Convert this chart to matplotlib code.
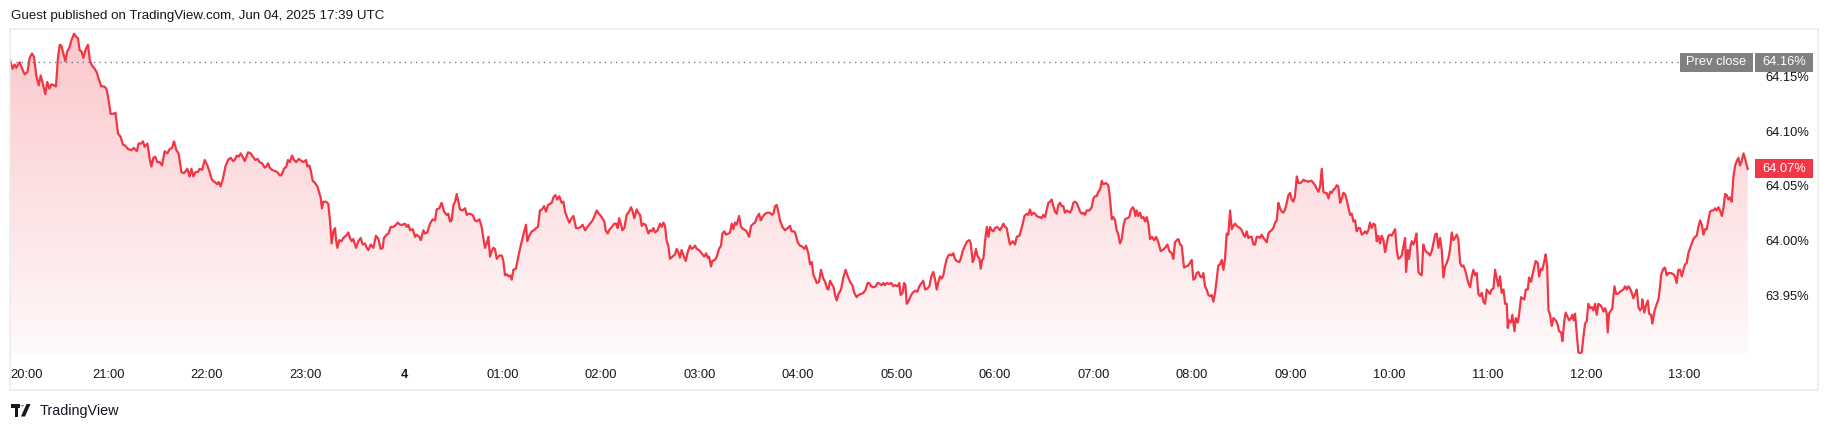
import matplotlib
matplotlib.use("Agg")
import matplotlib.pyplot as plt
import matplotlib.colors as mcolors
from matplotlib.patches import Rectangle, PathPatch, Polygon, Circle
from matplotlib.lines import Line2D
from matplotlib import transforms
import numpy as np

# --- data: minutes after 20:00 (Jun 3) and yield in % ---
minutes = [
    0, 1.6, 2.8, 3.9, 4.9, 5.9, 6.9, 8.9, 10.6, 12.0,
    13.4, 14.6, 16.0, 17.5, 18.7, 19.9, 21.5, 22.7, 24.0, 25.2,
    26.8, 28.0, 29.2, 30.3, 31.3, 32.5, 33.7, 34.9, 36.1, 37.4,
    39.0, 40.4, 41.4, 42.4, 43.5, 44.7, 45.9, 47.5, 48.7, 50.0,
    51.6, 52.8, 54.0, 55.6, 57.3, 58.7, 59.7, 61.3, 62.7, 64.2,
    65.8, 67.4, 68.8, 70.2, 71.9, 73.9, 75.5, 77.2, 78.4, 80.0,
    81.0, 82.0, 83.7, 85.1, 86.1, 87.3, 88.5, 89.7, 91.2, 92.6,
    94.2, 95.8, 97.3, 98.7, 99.9, 101.3, 102.7, 104.4, 106.0, 108.0,
    109.4, 110.5, 111.7, 112.9, 114.5, 115.5, 117.0, 118.6, 120.2, 121.6,
    123.0, 124.7, 126.3, 127.1, 128.3, 129.7, 131.2, 132.8, 134.4, 135.8,
    136.9, 138.1, 139.3, 140.5, 142.0, 143.0, 145.0, 146.6, 148.0, 149.4,
    150.7, 152.1, 153.5, 155.1, 156.1, 157.2, 158.2, 159.6, 161.2, 162.8,
    164.3, 165.3, 166.9, 168.3, 169.3, 170.4, 171.8, 173.0, 174.4, 175.8,
    178.7, 180.3, 181.1, 182.3, 183.1, 184.4, 185.8, 187.2, 188.4, 189.2,
    190.0, 190.9, 192.5, 193.9, 194.9, 195.9, 197.0, 198.0, 198.6, 199.4,
    200.6, 202.0, 203.0, 204.7, 206.1, 207.1, 208.1, 209.1, 210.8, 212.2,
    213.6, 214.8, 216.2, 217.3, 218.3, 219.7, 221.3, 222.9, 224.4, 225.8,
    227.0, 227.8, 229.4, 230.5, 231.9, 233.5, 235.1, 236.1, 237.6, 239.2,
    240.6, 241.6, 242.6, 243.7, 245.3, 246.7, 247.7, 249.3, 250.2, 251.8,
    252.8, 254.2, 255.8, 257.5, 258.9, 259.9, 261.5, 262.9, 264.4, 266.0,
    267.0, 268.0, 269.0, 270.1, 271.1, 272.1, 273.1, 274.1, 275.7, 277.2,
    278.2, 279.2, 280.2, 281.8, 283.2, 284.3, 285.9, 287.3, 288.3, 289.3,
    290.4, 291.4, 292.4, 293.4, 294.4, 295.4, 296.5, 298.1, 299.5, 300.5,
    301.5, 302.5, 303.6, 304.6, 305.6, 306.6, 308.2, 309.6, 311.1, 312.7,
    314.3, 315.1, 316.3, 317.8, 319.2, 320.4, 321.6, 322.8, 324.1, 325.3,
    326.5, 327.7, 328.9, 330.0, 331.0, 332.2, 333.4, 334.6, 336.0, 337.1,
    338.1, 339.5, 340.7, 342.1, 343.2, 344.8, 346.2, 347.6, 348.8, 350.3,
    351.7, 353.3, 354.9, 356.3, 357.4, 358.6,
    359.4, 360.8, 362.0, 362.8, 364.1, 364.9, 366.5, 368.1, 369.3, 370.2,
    371.0, 372.2, 373.0, 374.2, 375.6, 377.1, 378.3, 379.1, 380.3, 381.7,
    382.7, 383.8, 384.8, 385.8, 387.2, 388.8, 389.9, 390.9, 391.9, 392.9,
    394.5, 395.9, 397.0, 398.0, 399.0, 400.0, 401.0, 402.0, 403.5, 405.1,
    406.1, 407.1, 408.1, 409.1, 410.2, 411.6, 412.8, 414.2, 415.2, 416.2,
    417.3, 418.3, 419.7, 421.3, 422.9, 424.0, 425.0, 425.8, 427.0, 427.8,
    429.4, 430.5, 431.9, 433.1, 433.9, 435.1, 436.1, 437.6, 438.6, 439.6,
    440.6, 441.6, 442.6, 444.1, 445.3, 446.7, 448.1, 449.3, 450.2, 451.4,
    452.8, 453.8, 455.0, 456.3, 457.3, 458.3, 459.9, 461.5, 462.9, 464.0,
    465.0, 466.0, 467.0, 468.0, 469.0, 470.5, 472.1, 473.7, 475.1, 476.1,
    477.8, 478.6, 479.8, 481.2, 482.6, 483.9, 484.9, 486.3, 487.3, 488.3,
    489.4, 490.4, 491.4, 492.8, 494.0, 495.4, 496.5, 497.7, 498.5, 499.5,
    500.5, 501.7, 502.5, 503.6, 504.6, 506.2, 507.6, 509.0, 510.3, 511.7,
    513.1, 514.3, 515.7, 516.8, 518.4, 519.8, 521.2, 522.4, 523.3, 524.5,
    525.9, 527.3, 528.5, 530.0, 531.0, 532.0, 533.0, 534.2, 535.4, 536.7,
    538.1,
    539.1, 540.5, 541.7, 542.5, 543.7, 544.6, 545.4, 546.2, 547.2, 548.6,
    549.8, 551.3, 552.7, 553.9, 555.3, 556.3, 557.4, 558.8, 560.0, 561.4,
    562.4, 563.5, 564.5, 565.5, 566.5, 567.5, 568.5, 569.5, 570.6, 571.6,
    572.6, 573.6, 574.6, 575.6, 576.6, 578.3, 579.1, 580.3, 581.7, 583.1,
    584.4, 585.2, 586.4, 587.2, 588.4, 589.2, 590.5, 591.3, 592.1, 592.9,
    593.9, 595.0, 596.0, 597.0, 598.0, 599.0, 600.0, 601.0, 602.0, 603.0,
    604.1, 605.1, 606.1, 607.1, 608.1, 609.1, 610.8, 612.2, 613.2, 614.8,
    615.8, 616.9, 617.9, 619.3, 620.3, 621.3, 622.3, 623.4, 624.4, 625.4,
    626.4, 627.4, 628.4, 629.4, 630.5, 631.5, 632.5, 633.5, 634.5, 635.5,
    636.5, 637.6, 638.6, 639.6, 640.6, 641.6, 642.6, 643.7, 644.7, 645.7,
    646.7, 647.7, 648.7, 649.7, 650.8, 651.8, 652.8, 653.8, 654.8, 655.8,
    657.5, 658.9, 659.9, 660.9, 661.9, 662.9, 664.0, 665.0, 666.0, 667.6,
    669.0, 670.0, 671.1, 672.1, 673.1, 674.1, 675.1, 676.1, 677.2, 678.2,
    679.2, 680.6, 681.8, 682.6, 683.9, 684.7, 685.5, 686.3, 687.3, 688.3,
    689.3, 690.4, 691.4, 692.4, 693.4, 694.4, 695.6, 696.9, 698.1, 699.5,
    700.9, 702.1, 703.6, 705.0, 706.2, 707.6, 708.6, 709.6, 710.7, 711.7,
    712.7, 713.7, 715.1, 716.3, 717.8,
    719.8, 720.8, 721.8, 722.8, 723.9, 724.9, 725.9, 726.9, 727.9, 728.9,
    730.0, 731.0, 732.0, 733.0, 734.0, 735.0, 736.0, 737.1, 738.1, 739.1,
    740.1, 741.1, 742.1, 743.2, 744.2, 745.2, 746.2, 747.2, 748.2, 749.2,
    750.3, 751.3, 752.3, 753.3, 754.3, 755.3, 756.3, 757.4, 758.4, 759.4,
    760.4, 761.4, 762.4, 763.5, 764.5, 765.5, 766.5, 767.5, 768.5, 769.5,
    770.6, 771.6, 772.6, 773.6, 774.6, 775.6, 776.7, 777.7, 778.7, 779.7,
    780.7, 781.7, 782.7, 783.8, 784.8, 785.8, 786.8, 787.8, 788.8, 789.9,
    790.9, 791.9, 792.9, 793.9, 794.9, 795.9, 797.0, 798.0, 799.0, 800.0,
    801.0, 802.0, 803.1, 804.1, 805.1, 806.1, 807.1, 808.1, 809.1, 810.2,
    811.2, 812.2, 813.2, 814.2, 815.2, 816.3, 817.3, 818.3, 819.3, 820.3,
    821.3, 822.3, 823.4, 824.4, 825.4, 826.4, 827.4, 828.4, 829.4, 830.5,
    831.5, 832.5, 833.5, 834.5, 835.5, 836.6, 837.6, 838.6, 839.6, 840.6,
    841.6, 842.6, 843.7, 844.7, 845.7, 846.7, 847.7, 848.7, 849.8, 850.4,
    851.4, 852.2, 853.0, 853.8, 854.8, 855.8, 856.7, 857.9, 858.9, 859.9,
    860.9, 861.9, 862.9, 864.0, 865.0, 866.0, 867.0, 868.0, 869.0, 870.1,
    871.1, 872.1, 873.1, 874.1, 875.1, 876.2, 877.2, 878.2, 879.2, 880.2,
    881.2, 882.2, 883.3, 884.3, 885.3, 886.3, 887.3, 888.3, 889.4, 890.4,
    891.4, 892.4, 893.4, 894.4, 895.4, 896.5, 897.5, 898.5,
    899.5, 900.5, 901.5, 902.5, 903.6, 904.6, 905.6, 906.6, 907.6, 908.6,
    909.7, 910.7, 911.7, 912.3, 913.1, 914.3, 915.1, 916.4, 917.2, 918.4,
    919.2, 920.4, 921.2, 922.4, 923.3, 924.5, 925.3, 926.5, 927.3, 928.5,
    929.3, 930.6, 931.4, 932.6, 933.4, 934.6, 935.4, 936.3, 937.1, 938.1,
    939.1, 940.1, 941.5, 942.7, 943.6, 944.8, 945.6, 946.8, 947.6, 948.8,
    949.7, 950.9, 951.7, 952.5, 953.3, 954.3, 955.3, 956.4, 957.4, 958.4,
    959.4, 960.4, 961.4, 962.5, 963.5, 964.5, 965.5, 966.5, 967.5, 968.5,
    969.6, 970.6, 971.6, 972.6, 973.2, 974.0, 975.2, 976.0, 977.3, 978.3,
    979.3, 980.7, 981.7, 982.7, 983.8, 984.8, 985.8, 986.8, 987.8, 988.8,
    989.9, 990.9, 991.9, 992.9, 993.9, 994.3, 995.5, 996.4, 997.6, 998.4,
    999.6, 1000.4, 1001.6, 1002.6, 1004.1, 1005.1, 1005.7, 1007.1, 1008.1, 1009.1,
    1010.2, 1011.8, 1013.2, 1014.2, 1015.2, 1016.2, 1017.3, 1018.3, 1019.3, 1020.3,
    1021.3, 1022.3, 1023.4, 1024.4, 1025.4, 1026.4, 1027.4, 1028.4, 1029.5, 1030.5,
    1031.5, 1032.5, 1033.5, 1034.5, 1035.5, 1036.6, 1037.6, 1038.6, 1039.6, 1040.6,
    1041.6, 1042.7, 1043.7, 1044.7, 1045.7, 1046.7, 1047.7, 1048.7, 1049.8, 1050.8,
    1051.8, 1052.8, 1053.8, 1054.8, 1055.9, 1056.9, 1057.9, 1058.5,
]

pct = [
    64.166, 64.158, 64.162, 64.159, 64.162, 64.164, 64.160, 64.153, 64.155, 64.168,
    64.172, 64.169, 64.152, 64.143, 64.152, 64.145, 64.135, 64.146, 64.140, 64.144,
    64.143, 64.142, 64.168, 64.180, 64.179, 64.172, 64.165, 64.174, 64.177, 64.184,
    64.190, 64.187, 64.186, 64.175, 64.174, 64.168, 64.175, 64.180, 64.165, 64.161,
    64.158, 64.155, 64.149, 64.142, 64.142, 64.140, 64.133, 64.117, 64.117, 64.118,
    64.099, 64.096, 64.089, 64.088, 64.085, 64.084, 64.086, 64.083, 64.090, 64.090,
    64.092, 64.087, 64.090, 64.076, 64.069, 64.077, 64.078, 64.073, 64.073, 64.070,
    64.083, 64.081, 64.085, 64.086, 64.092, 64.084, 64.081, 64.064, 64.063, 64.067,
    64.060, 64.067, 64.060, 64.064, 64.064, 64.067, 64.066, 64.075, 64.070, 64.064,
    64.057, 64.055, 64.053, 64.055, 64.051, 64.058, 64.069, 64.075, 64.077, 64.074,
    64.075, 64.079, 64.078, 64.081, 64.077, 64.074, 64.082, 64.081, 64.078, 64.075,
    64.076, 64.073, 64.072, 64.068, 64.069, 64.072, 64.068, 64.066, 64.065, 64.064,
    64.061, 64.061, 64.067, 64.069, 64.075, 64.073, 64.079, 64.075, 64.073, 64.076,
    64.073, 64.075, 64.069, 64.070, 64.066, 64.056, 64.054, 64.051, 64.045, 64.041,
    64.031, 64.037, 64.037, 64.035, 64.020, 63.999, 64.010, 64.013, 64.002, 63.995,
    64.002, 64.001, 64.004, 64.006, 64.009, 64.004, 64.001, 64.003, 63.995, 64.001,
    64.004, 63.998, 63.999, 63.995, 63.993, 63.998, 63.995, 64.006, 64.003, 63.994,
    63.995, 64.004, 64.007, 64.008, 64.014, 64.014, 64.016, 64.018, 64.016, 64.016,
    64.017, 64.014, 64.016, 64.011, 64.012, 64.005, 64.007, 64.005, 64.002, 64.011,
    64.008, 64.009, 64.017, 64.021, 64.020, 64.030, 64.031, 64.036, 64.028, 64.025,
    64.026, 64.019, 64.020, 64.034, 64.037, 64.044, 64.037, 64.030, 64.029, 64.031,
    64.025, 64.026, 64.026, 64.025, 64.020, 64.019, 64.021, 64.014, 64.004, 63.995,
    63.999, 64.005, 63.987, 63.992, 63.995, 63.994, 63.985, 63.988, 63.988, 63.983,
    63.970, 63.971, 63.969, 63.970, 63.966, 63.975, 63.976, 63.987, 63.997, 64.007,
    64.016, 64.001, 64.006, 64.010, 64.011, 64.013, 64.014, 64.029, 64.030, 64.033,
    64.028, 64.034, 64.035, 64.036, 64.041, 64.043, 64.039, 64.042, 64.036, 64.037,
    64.028, 64.022, 64.018, 64.022, 64.024, 64.013, 64.013, 64.014, 64.016, 64.011,
    64.014, 64.017, 64.020, 64.025, 64.029, 64.026,
    64.025, 64.022, 64.019, 64.011, 64.008, 64.011, 64.014, 64.017, 64.017, 64.013,
    64.022, 64.016, 64.011, 64.013, 64.025, 64.028, 64.032, 64.029, 64.022, 64.030,
    64.027, 64.025, 64.015, 64.017, 64.016, 64.008, 64.011, 64.010, 64.013, 64.009,
    64.011, 64.017, 64.014, 64.018, 64.015, 64.001, 63.997, 63.985, 63.987, 63.989,
    63.994, 63.991, 63.986, 63.993, 63.988, 63.983, 63.991, 63.997, 63.994, 63.995,
    63.997, 63.994, 63.993, 63.990, 63.987, 63.990, 63.986, 63.987, 63.978, 63.983,
    63.984, 63.987, 63.994, 63.997, 64.008, 64.010, 64.007, 64.008, 64.009, 64.017,
    64.012, 64.018, 64.016, 64.024, 64.014, 64.012, 64.011, 64.008, 64.005, 64.015,
    64.017, 64.018, 64.023, 64.026, 64.020, 64.023, 64.026, 64.027, 64.027, 64.025,
    64.026, 64.033, 64.034, 64.028, 64.020, 64.014, 64.011, 64.013, 64.015, 64.010,
    64.010, 64.007, 64.000, 63.997, 63.996, 63.994, 63.997, 63.990, 63.980, 63.982,
    63.970, 63.967, 63.963, 63.964, 63.975, 63.967, 63.964, 63.958, 63.957, 63.965,
    63.962, 63.959, 63.952, 63.947, 63.953, 63.957, 63.968, 63.975, 63.969, 63.964,
    63.961, 63.954, 63.950, 63.952, 63.953, 63.954, 63.957, 63.963, 63.963, 63.960,
    63.959, 63.960, 63.963, 63.962, 63.961, 63.963, 63.961, 63.963, 63.962, 63.963,
    63.960,
    63.961, 63.960, 63.963, 63.952, 63.954, 63.963, 63.961, 63.944, 63.946, 63.951,
    63.954, 63.956, 63.955, 63.960, 63.963, 63.965, 63.957, 63.958, 63.960, 63.970,
    63.973, 63.966, 63.957, 63.964, 63.969, 63.967, 63.970, 63.978, 63.985, 63.988,
    63.989, 63.988, 63.990, 63.985, 63.983, 63.982, 63.985, 63.992, 63.997, 64.001,
    64.002, 63.999, 63.982, 63.985, 63.994, 63.988, 63.985, 63.976, 63.984, 63.985,
    64.001, 64.014, 64.005, 64.014, 64.011, 64.010, 64.013, 64.014, 64.013, 64.011,
    64.014, 64.017, 64.014, 64.013, 64.005, 63.998, 64.001, 63.998, 64.005, 64.006,
    64.011, 64.017, 64.024, 64.026, 64.025, 64.030, 64.025, 64.027, 64.026, 64.024,
    64.023, 64.023, 64.022, 64.025, 64.023, 64.030, 64.036, 64.037, 64.039, 64.033,
    64.028, 64.026, 64.034, 64.036, 64.033, 64.033, 64.027, 64.029, 64.028, 64.027,
    64.030, 64.036, 64.037, 64.036, 64.032, 64.028, 64.026, 64.027, 64.025, 64.029,
    64.029, 64.032, 64.040, 64.042, 64.042, 64.046, 64.048, 64.056, 64.053, 64.054,
    64.052, 64.040, 64.021, 64.023, 64.020, 64.011, 64.007, 63.999, 64.003, 64.015,
    64.021, 64.022, 64.023, 64.029, 64.032, 64.030, 64.024, 64.029, 64.024, 64.027,
    64.022, 64.023, 64.019, 64.023, 64.017, 64.003, 64.005, 64.002, 64.005, 64.000,
    63.992, 63.993, 63.995, 63.998, 63.992, 63.990, 63.985, 64.000, 64.002, 64.003,
    63.998, 63.997, 63.977, 63.978, 63.979,
    63.984, 63.966, 63.967, 63.972, 63.973, 63.969, 63.968, 63.972, 63.960, 63.957,
    63.952, 63.951, 63.952, 63.946, 63.954, 63.966, 63.979, 63.980, 63.984, 63.975,
    63.985, 64.008, 64.007, 64.029, 64.012, 64.015, 64.017, 64.015, 64.014, 64.013,
    64.011, 64.007, 64.005, 64.010, 64.004, 64.005, 64.005, 63.998, 63.998, 64.005,
    64.005, 64.004, 64.007, 64.004, 64.002, 64.000, 64.008, 64.010, 64.011, 64.013,
    64.018, 64.020, 64.036, 64.031, 64.028, 64.027, 64.030, 64.036, 64.043, 64.045,
    64.039, 64.037, 64.042, 64.060, 64.054, 64.054, 64.055, 64.057, 64.056, 64.056,
    64.055, 64.056, 64.056, 64.054, 64.052, 64.049, 64.046, 64.051, 64.067, 64.046,
    64.045, 64.045, 64.040, 64.046, 64.045, 64.048, 64.049, 64.052, 64.051, 64.036,
    64.040, 64.045, 64.044, 64.039, 64.032, 64.025, 64.026, 64.019, 64.020, 64.010,
    64.013, 64.013, 64.007, 64.008, 64.010, 64.008, 64.011, 64.018, 64.013, 64.017,
    64.016, 64.001, 64.006, 63.999, 64.006, 64.002, 63.991, 63.999, 64.006, 64.007,
    64.006, 64.009, 64.012, 63.993, 63.985, 63.986, 63.988, 63.996, 64.004, 63.973,
    63.993, 63.985, 63.996, 64.001, 63.998, 64.002, 64.008, 63.973, 63.971, 63.970,
    63.998, 63.993, 63.991, 63.990, 63.988, 63.992, 63.999, 64.007, 64.008, 63.995,
    64.004, 63.993, 63.968, 63.978, 63.981, 63.986, 63.994, 64.009, 64.002, 64.004,
    64.007, 64.003, 63.981, 63.978, 63.979, 63.975, 63.969, 63.963, 63.959, 63.969,
    63.975, 63.970, 63.972, 63.953, 63.951, 63.954, 63.946, 63.944,
    63.957, 63.955, 63.953, 63.957, 63.958, 63.975, 63.967, 63.960, 63.969, 63.954,
    63.957, 63.944, 63.944, 63.922, 63.929, 63.927, 63.934, 63.919, 63.931, 63.927,
    63.934, 63.950, 63.949, 63.948, 63.957, 63.957, 63.968, 63.964, 63.970, 63.978,
    63.983, 63.981, 63.969, 63.976, 63.975, 63.983, 63.989, 63.978, 63.938, 63.934,
    63.924, 63.931, 63.929, 63.925, 63.919, 63.918, 63.910, 63.929, 63.936, 63.932,
    63.929, 63.931, 63.934, 63.929, 63.935, 63.917, 63.900, 63.899, 63.900, 63.914,
    63.926, 63.928, 63.944, 63.940, 63.941, 63.938, 63.944, 63.934, 63.944, 63.943,
    63.941, 63.937, 63.940, 63.935, 63.918, 63.935, 63.938, 63.940, 63.960, 63.953,
    63.953, 63.955, 63.956, 63.957, 63.960, 63.957, 63.960, 63.958, 63.954, 63.949,
    63.953, 63.957, 63.941, 63.938, 63.940, 63.948, 63.936, 63.942, 63.947, 63.935,
    63.934, 63.926, 63.937, 63.942, 63.948, 63.960, 63.970, 63.976, 63.977, 63.970,
    63.972, 63.972, 63.971, 63.969, 63.963, 63.975, 63.975, 63.969, 63.975, 63.980,
    63.981, 63.990, 63.995, 63.999, 64.003, 64.005, 64.006, 64.014, 64.020, 64.016,
    64.007, 64.012, 64.012, 64.020, 64.028, 64.029, 64.029, 64.031, 64.029, 64.032,
    64.029, 64.024, 64.031, 64.044, 64.043, 64.039, 64.041, 64.037, 64.060, 64.070,
    64.074, 64.077, 64.070, 64.074, 64.081, 64.076, 64.070, 64.067,
]

prev_close = 64.164
price_ticks = [63.95, 64.00, 64.05, 64.10, 64.15]
time_ticks = [60, 120, 180, 240, 300, 360, 420, 480, 540, 600,
              660, 720, 780, 840, 900, 960, 1020]
time_labels = ["21:00", "22:00", "23:00", "4", "01:00", "02:00", "03:00",
               "04:00", "05:00", "06:00", "07:00", "08:00", "09:00", "10:00",
               "11:00", "12:00", "13:00"]

assert len(minutes) == len(pct), (len(minutes), len(pct))

RED = "#f23645"
TXT = "#131722"
GREY = "#808080"
FS = 9.3

plt.rcParams['font.family'] = ['Liberation Sans', 'DejaVu Sans']

W, H = 1831, 430
fig = plt.figure(figsize=(W / 100, H / 100), dpi=100)


def fx(x):
    return x / W


def fy(y):
    return 1 - y / H


ax = fig.add_axes([fx(10), fy(354), (1754 - 10) / W, (354 - 29) / H])
ax.axis('off')

t = np.array(minutes)
v = np.array(pct)
ymin, ymax = 63.8983, 64.1943

# gradient area under the line
area = ax.fill_between(t, v, ymin, facecolor='none', edgecolor='none')
grad = np.zeros((256, 1, 4))
grad[:, 0, :3] = mcolors.to_rgb(RED)
grad[:, 0, 3] = np.linspace(0.28, 0.03, 256)
im = ax.imshow(grad, extent=[t[0], t[-1], ymin, ymax], aspect='auto',
               origin='upper', interpolation='bilinear', zorder=1)
clip = PathPatch(area.get_paths()[0], transform=ax.transData,
                 facecolor='none', edgecolor='none')
ax.add_patch(clip)
im.set_clip_path(clip)

ax.plot(t, v, color=RED, lw=1.6, zorder=3, solid_joinstyle='round')

ax.set_xlim(0, 1062.3)
ax.set_ylim(ymin, ymax)

# blended transforms: x in figure fraction, y in data
tr_y = transforms.blended_transform_factory(fig.transFigure, ax.transData)
tr_x = transforms.blended_transform_factory(ax.transData, fig.transFigure)

# prev close dotted line + labels
fig.add_artist(Line2D([fx(10), fx(1680)], [prev_close, prev_close],
                      transform=tr_y, color='#787b86', lw=1,
                      linestyle=(0, (1, 3))))
bh = 19 / 1098.0
fig.add_artist(Rectangle((fx(1680), prev_close - bh / 2), (1753 - 1680) / W, bh,
                         transform=tr_y, facecolor=GREY, edgecolor='none'))
fig.add_artist(Rectangle((fx(1755), prev_close - bh / 2), (1813 - 1755) / W, bh,
                         transform=tr_y, facecolor=GREY, edgecolor='none'))
fig.text(fx(1716.5), prev_close, "Prev close", transform=tr_y, color='white',
         fontsize=FS, ha='center', va='center')
fig.text(fx(1784), prev_close, f"{prev_close:.2f}%", transform=tr_y,
         color='white', fontsize=FS, ha='center', va='center')

# price scale
for p in price_ticks:
    fig.text(fx(1765), p, f"{p:.2f}%", transform=tr_y, color=TXT,
             fontsize=FS, ha='left', va='center')

last = pct[-1]
fig.add_artist(Rectangle((fx(1755), last - bh / 2), (1813 - 1755) / W, bh,
                         transform=tr_y, facecolor=RED, edgecolor='none'))
fig.text(fx(1784), last, f"{last:.2f}%", transform=tr_y, color='white',
         fontsize=FS, ha='center', va='center')

# time scale
fig.text(fx(10.5), fy(375), "20:00", color=TXT, fontsize=FS, ha='left', va='center')
for tk, lab in zip(time_ticks, time_labels):
    fig.text(tk, fy(375), lab, transform=tr_x, color=TXT, fontsize=FS,
             ha='center', va='center',
             fontweight='bold' if lab == "4" else 'normal')

# panel border
fig.add_artist(Rectangle((fx(10), fy(390)), (1818 - 10) / W, (390 - 29) / H,
                         transform=fig.transFigure, fill=False,
                         edgecolor='#ececec', lw=1.2))

# header
fig.text(fx(11), fy(16.5), "Guest published on TradingView.com, Jun 04, 2025 17:39 UTC",
         color=TXT, fontsize=9.6, ha='left', va='center')

# footer logo
logo_T = [(11.5, 404), (20, 404), (20, 407.5), (18.5, 407.5), (18.5, 416.5),
          (15, 416.5), (15, 407.5), (11.5, 407.5)]
fig.add_artist(Polygon([(fx(x), fy(y)) for x, y in logo_T], closed=True,
                       transform=fig.transFigure, facecolor=TXT, edgecolor='none'))
logo_V = [(21, 416.5), (26.5, 404), (30.5, 404), (25, 416.5)]
fig.add_artist(Polygon([(fx(x), fy(y)) for x, y in logo_V], closed=True,
                       transform=fig.transFigure, facecolor=TXT, edgecolor='none'))
fig.add_artist(Circle((fx(22.3), fy(405.8)), 1.7 / W, transform=fig.transFigure,
                      facecolor=TXT, edgecolor='none'))
fig.text(fx(40), fy(410.5), "TradingView", color=TXT, fontsize=10.4,
         ha='left', va='center')

fig.savefig("out.png", dpi=100, facecolor='white')
